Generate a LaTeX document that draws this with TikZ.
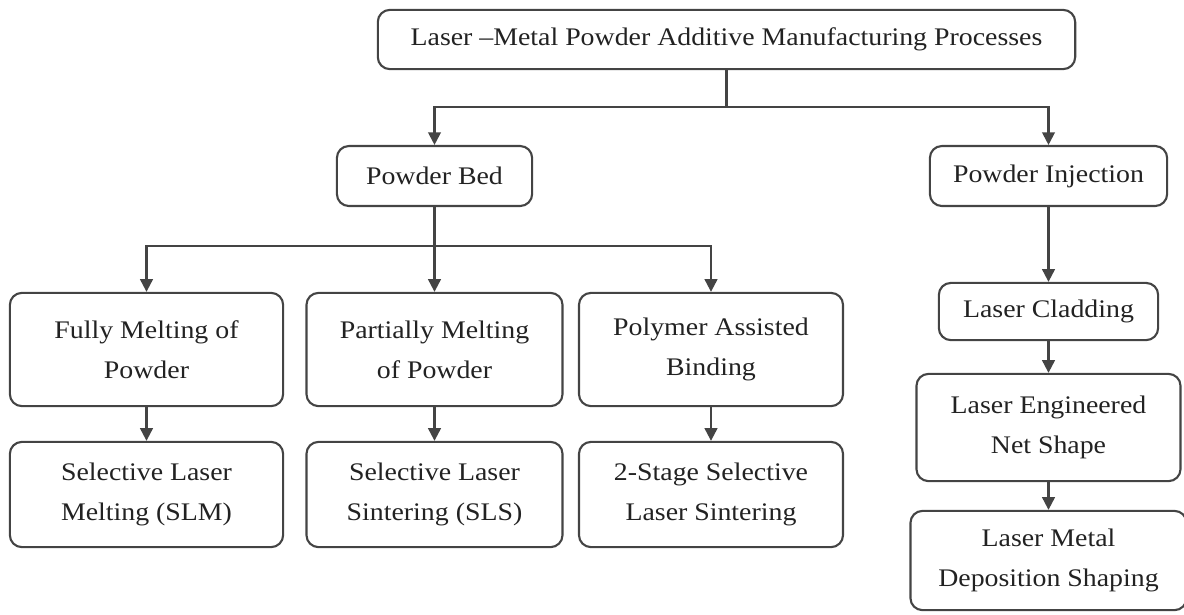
\documentclass[tikz,border=0pt]{standalone}
\usepackage{fontspec}
\setmainfont{Liberation Serif}[FakeStretch=1.1]
\usetikzlibrary{arrows.meta}
\definecolor{boxgray}{HTML}{444444}
\definecolor{txtgray}{HTML}{222222}

\begin{document}
\begin{tikzpicture}[x=0.025cm,y=-0.025cm,
  box/.style={draw=boxgray, line width=1.5pt, rounded corners=0.3cm, align=center,
    inner sep=0pt, text=txtgray, font=\fontsize{18}{28.5}\selectfont},
  link/.style={draw=boxgray, line width=1.5pt, -{Triangle[width=9pt,length=9pt]}},
  bus/.style={draw=boxgray, line width=1.5pt}]
  \useasboundingbox (0,0) rectangle (1184,614);

  % Top level
  \node[box, minimum width=17.43cm, minimum height=1.48cm] (top) at (726.5,39.5)
    {Laser –Metal Powder Additive Manufacturing Processes};

  % Second level
  \node[box, minimum width=4.88cm, minimum height=1.5cm] (pbed) at (434.5,176) {Powder Bed};
  \node[box, minimum width=5.93cm, minimum height=1.5cm] (pinj) at (1048.5,176) {Powder Injection};

  % Powder bed branches
  \node[box, minimum width=6.83cm, minimum height=2.83cm] (full) at (146.5,349.5) {Fully Melting of\\Powder};
  \node[box, minimum width=6.4cm, minimum height=2.83cm] (part) at (434.5,349.5) {Partially Melting\\of Powder};
  \node[box, minimum width=6.6cm, minimum height=2.83cm] (poly) at (711,349.5) {Polymer Assisted\\Binding};

  \node[box, minimum width=6.83cm, minimum height=2.63cm] (slm) at (146.5,494.5) {Selective Laser\\Melting (SLM)};
  \node[box, minimum width=6.4cm, minimum height=2.63cm] (sls) at (434.5,494.5) {Selective Laser\\Sintering (SLS)};
  \node[box, minimum width=6.6cm, minimum height=2.63cm] (twostage) at (711,494.5) {2-Stage Selective\\Laser Sintering};

  % Powder injection column
  \node[box, minimum width=5.48cm, minimum height=1.43cm] (clad) at (1048.5,311.5) {Laser Cladding};
  \node[box, minimum width=6.6cm, minimum height=2.68cm] (lens) at (1048.5,427.5) {Laser Engineered\\Net Shape};
  \node[box, minimum width=6.9cm, minimum height=2.48cm] (lmds) at (1048.5,560.5) {Laser Metal\\Deposition Shaping};

  % Connectors
  \coordinate (busA) at (726.5,107);
  \coordinate (busB) at (434.5,246);
  \draw[bus] (top.south) -- (busA);
  \draw[link] (busA) -| (pbed.north);
  \draw[link] (busA) -| (pinj.north);

  \draw[link] (pbed.south) -- (part.north);
  \draw[link] (busB) -| (full.north);
  \draw[link] (busB) -| (poly.north);

  \draw[link] (full) -- (slm);
  \draw[link] (part) -- (sls);
  \draw[link] (poly) -- (twostage);

  \draw[link] (pinj) -- (clad);
  \draw[link] (clad) -- (lens);
  \draw[link] (lens) -- (lmds);

\end{tikzpicture}
\end{document}
